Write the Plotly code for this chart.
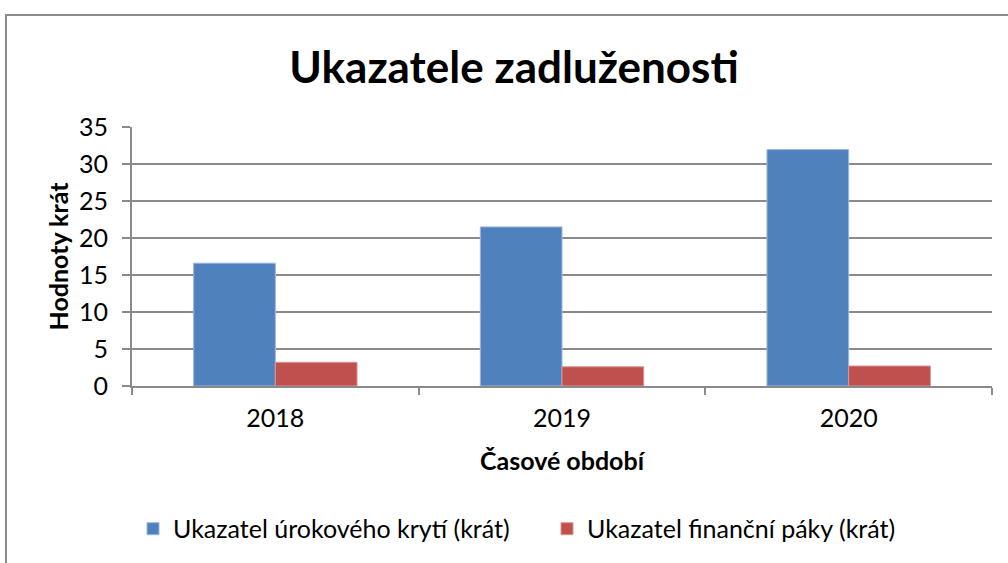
import plotly.graph_objects as go

categories = ["2018", "2019", "2020"]
urokove_kryti = [16.6, 21.5, 31.95]
financni_paky = [3.2, 2.6, 2.7]
series_names = ["Ukazatel úrokového krytí (krát)", "Ukazatel finanční páky (krát)"]
y_ticks = [0, 5, 10, 15, 20, 25, 30, 35]

FONT = "Lato"
GRID = "#8a8a8a"
FS = 25

fig = go.Figure()
fig.add_trace(go.Bar(x=categories, y=urokove_kryti, name=series_names[0],
                     marker=dict(color="#4F81BD", line=dict(color="#9db7da", width=1))))
fig.add_trace(go.Bar(x=categories, y=financni_paky, name=series_names[1],
                     marker=dict(color="#C0504D", line=dict(color="#d99492", width=1))))

fig.update_layout(
    width=1008, height=563,
    margin=dict(l=132, r=16, t=127, b=177, autoexpand=False),
    paper_bgcolor="white", plot_bgcolor="white",
    barmode="group", bargap=0.43, bargroupgap=0,
    font=dict(family=FONT, size=FS, color="black"),
    title=dict(text="<b>Ukazatele zadluženosti</b>", x=514/1008, xanchor="center",
               y=1-68/563, yanchor="middle", yref="container",
               font=dict(family=FONT, size=44, color="black")),
    showlegend=True,
    legend=dict(orientation="h", x=(133-132)/860, xanchor="left", y=-0.552, yanchor="middle",
                font=dict(family=FONT, size=FS), itemwidth=30, bgcolor="rgba(0,0,0,0)",
                entrywidth=369, entrywidthmode="pixels"),
    shapes=[dict(type="rect", xref="paper", yref="paper",
                 x0=(6-132)/860, x1=1.2, y0=-2.0, y1=(386-15)/259,
                 line=dict(color="#8c8c8c", width=2), fillcolor="rgba(0,0,0,0)", layer="below")],
)

fig.update_xaxes(
    showline=True, linecolor=GRID, linewidth=2,
    ticks="outside", ticklen=7, tickcolor=GRID, tickwidth=2, tickson="boundaries",
    ticklabelstandoff=9, automargin=False,
    title=dict(text="<b>Časové období</b>", font=dict(family=FONT, size=FS), standoff=21),
    showgrid=False,
)
fig.update_yaxes(
    range=[0, 35], tickvals=y_ticks,
    showline=True, linecolor=GRID, linewidth=2,
    ticks="outside", ticklen=8, tickcolor=GRID, tickwidth=2,
    ticklabelstandoff=9, automargin=False,
    showgrid=True, gridcolor=GRID, gridwidth=2,
    zeroline=False,
    title=dict(text="<b>Hodnoty krát</b>", font=dict(family=FONT, size=FS), standoff=3),
)

fig.write_html("out.html", config={"displayModeBar": False},
               post_script="document.body.style.margin='0';")
